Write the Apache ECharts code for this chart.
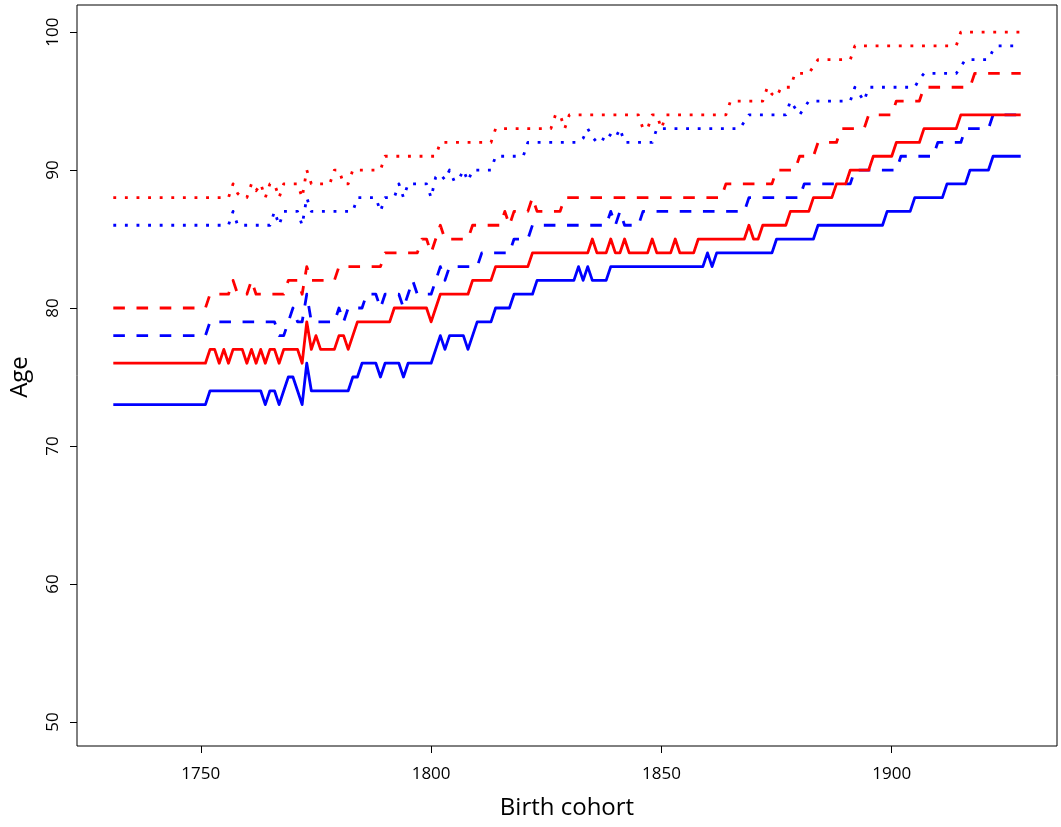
<!DOCTYPE html>
<html>
<head>
<meta charset="utf-8">
<script src="https://cdn.jsdelivr.net/npm/echarts@6/dist/echarts.min.js"></script>
<style>
  html, body { margin: 0; padding: 0; background: #fff; }
  #chart { width: 1061px; height: 827px; }
</style>
</head>
<body>
<div id="chart"></div>
<script>
// Birth cohorts 1731..1928, one value per cohort (rows of ten years)
const firstYear = 1731;

const xTicks = [1750, 1800, 1850, 1900];
const yTicks = [50, 60, 70, 80, 90, 100];

// Blue, solid
const blueSolid = [
  73, 73, 73, 73, 73, 73, 73, 73, 73, 73,
  73, 73, 73, 73, 73, 73, 73, 73, 73, 73,
  73, 74, 74, 74, 74, 74, 74, 74, 74, 74,
  74, 74, 74, 73, 74, 74, 73, 74, 75, 75,
  74, 73, 76, 74, 74, 74, 74, 74, 74, 74,
  74, 74, 75, 75, 76, 76, 76, 76, 75, 76,
  76, 76, 76, 75, 76, 76, 76, 76, 76, 76,
  77, 78, 77, 78, 78, 78, 78, 77, 78, 79,
  79, 79, 79, 80, 80, 80, 80, 81, 81, 81,
  81, 81, 82, 82, 82, 82, 82, 82, 82, 82,
  82, 83, 82, 83, 82, 82, 82, 82, 83, 83,
  83, 83, 83, 83, 83, 83, 83, 83, 83, 83,
  83, 83, 83, 83, 83, 83, 83, 83, 83, 84,
  83, 84, 84, 84, 84, 84, 84, 84, 84, 84,
  84, 84, 84, 84, 85, 85, 85, 85, 85, 85,
  85, 85, 85, 86, 86, 86, 86, 86, 86, 86,
  86, 86, 86, 86, 86, 86, 86, 86, 87, 87,
  87, 87, 87, 87, 88, 88, 88, 88, 88, 88,
  88, 89, 89, 89, 89, 89, 90, 90, 90, 90,
  90, 91, 91, 91, 91, 91, 91, 91
];

// Blue, dashed
const blueDashed = [
  78, 78, 78, 78, 78, 78, 78, 78, 78, 78,
  78, 78, 78, 78, 78, 78, 78, 78, 78, 78,
  78, 79, 79, 79, 79, 79, 79, 79, 79, 79,
  79, 79, 79, 79, 79, 79, 78, 78, 79, 80,
  79, 79, 81, 79, 79, 79, 79, 79, 79, 80,
  79, 80, 80, 80, 80, 81, 81, 81, 80, 81,
  81, 81, 81, 80, 81, 82, 81, 81, 81, 81,
  82, 83, 82, 83, 83, 83, 83, 83, 83, 83,
  84, 84, 84, 84, 84, 84, 84, 85, 85, 85,
  85, 86, 86, 86, 86, 86, 86, 86, 86, 86,
  86, 86, 86, 86, 86, 86, 86, 86, 87, 86,
  87, 86, 86, 86, 86, 87, 87, 87, 87, 87,
  87, 87, 87, 87, 87, 87, 87, 87, 87, 87,
  87, 87, 87, 87, 87, 87, 87, 87, 88, 88,
  88, 88, 88, 88, 88, 88, 88, 88, 88, 88,
  89, 89, 89, 89, 89, 89, 89, 89, 89, 89,
  89, 90, 90, 90, 90, 90, 90, 90, 90, 90,
  90, 91, 91, 91, 91, 91, 91, 91, 91, 92,
  92, 92, 92, 92, 92, 93, 93, 93, 93, 93,
  93, 94, 94, 94, 94, 94, 94, 94
];

// Blue, dotted
const blueDotted = [
  86, 86, 86, 86, 86, 86, 86, 86, 86, 86,
  86, 86, 86, 86, 86, 86, 86, 86, 86, 86,
  86, 86, 86, 86, 86, 86, 87, 86, 86, 86,
  86, 86, 86, 86, 86, 87, 86, 87, 87, 87,
  87, 86, 88, 87, 87, 87, 87, 87, 87, 87,
  87, 87, 87, 88, 88, 88, 88, 88, 87, 88,
  88, 88, 89, 88, 89, 89, 89, 89, 89, 88,
  89.5, 89.7, 89.3, 90, 89.2, 89.3, 90, 89.2, 90, 90,
  90, 90, 90, 91, 91, 91, 91, 91, 91, 91,
  92, 92, 92, 92, 92, 92, 92, 92, 92, 92,
  92, 92, 92.3, 93, 92.4, 92, 92, 92.7, 92.5, 92.3,
  93, 92, 92, 92, 92, 92, 92, 92, 93, 93,
  93, 93, 93, 93, 93, 93, 93, 93, 93, 93,
  93, 93, 93, 93, 93, 93, 93, 93.5, 94, 94,
  94, 94, 94, 94, 94, 94, 94, 95, 94.5, 94,
  94.5, 95, 95, 95, 95, 95, 95, 95, 95, 95,
  95, 96, 95.5, 95, 96, 96, 96, 96, 96, 96,
  96, 96, 96, 96, 96, 96.6, 97, 97, 97, 97,
  97, 97, 97, 97, 97.5, 98, 98, 98, 98, 98,
  98, 98.7, 99, 99, 99, 99, 99, 99
];

// Red, solid
const redSolid = [
  76, 76, 76, 76, 76, 76, 76, 76, 76, 76,
  76, 76, 76, 76, 76, 76, 76, 76, 76, 76,
  76, 77, 77, 76, 77, 76, 77, 77, 77, 76,
  77, 76, 77, 76, 77, 77, 76, 77, 77, 77,
  77, 76, 79, 77, 78, 77, 77, 77, 77, 78,
  78, 77, 78, 79, 79, 79, 79, 79, 79, 79,
  79, 80, 80, 80, 80, 80, 80, 80, 80, 79,
  80, 81, 81, 81, 81, 81, 81, 81, 82, 82,
  82, 82, 82, 83, 83, 83, 83, 83, 83, 83,
  83, 84, 84, 84, 84, 84, 84, 84, 84, 84,
  84, 84, 84, 84, 85, 84, 84, 84, 85, 84,
  84, 85, 84, 84, 84, 84, 84, 85, 84, 84,
  84, 84, 85, 84, 84, 84, 84, 85, 85, 85,
  85, 85, 85, 85, 85, 85, 85, 85, 86, 85,
  85, 86, 86, 86, 86, 86, 86, 87, 87, 87,
  87, 87, 88, 88, 88, 88, 88, 89, 89, 89,
  90, 90, 90, 90, 90, 91, 91, 91, 91, 91,
  92, 92, 92, 92, 92, 92, 93, 93, 93, 93,
  93, 93, 93, 93, 94, 94, 94, 94, 94, 94,
  94, 94, 94, 94, 94, 94, 94, 94
];

// Red, dashed
const redDashed = [
  80, 80, 80, 80, 80, 80, 80, 80, 80, 80,
  80, 80, 80, 80, 80, 80, 80, 80, 80, 80,
  80, 81, 81, 81, 81, 81, 82, 81, 81, 81,
  82, 81, 81, 81, 81, 81, 81, 81, 82, 82,
  82, 81, 83, 82, 82, 82, 82, 82, 82, 83,
  83, 83, 83, 83, 83, 83, 83, 83, 83, 84,
  84, 84, 84, 84, 84, 84, 84, 85, 85, 84,
  85, 86, 85, 85, 85, 85, 85, 85, 86, 86,
  86, 86, 86, 86, 86, 87, 86, 87, 87, 87,
  87, 88, 87, 87, 87, 87, 87, 87, 88, 88,
  88, 88, 88, 88, 88, 88, 88, 88, 88, 88,
  88, 88, 88, 88, 88, 88, 88, 88, 88, 88,
  88, 88, 88, 88, 88, 88, 88, 88, 88, 88,
  88, 88, 88, 89, 89, 89, 89, 89, 89, 89,
  89, 89, 89, 89, 90, 90, 90, 90, 90, 91,
  91, 91, 91, 92, 92, 92, 92, 92, 93, 93,
  93, 93, 93, 93, 94, 94, 94, 94, 94, 94,
  95, 95, 95, 95, 95, 95, 96, 96, 96, 96,
  96, 96, 96, 96, 96, 96, 96, 97, 97, 97,
  97, 97, 97, 97, 97, 97, 97, 97
];

// Red, dotted
const redDotted = [
  88, 88, 88, 88, 88, 88, 88, 88, 88, 88,
  88, 88, 88, 88, 88, 88, 88, 88, 88, 88,
  88, 88, 88, 88, 88, 88, 89, 88.3, 88, 88,
  89, 88.5, 89, 88, 89, 89, 88, 89, 89, 89,
  89, 88, 90, 89, 89, 89, 89, 89, 90, 90,
  89, 89, 90, 90, 90, 90, 90, 90, 90, 91,
  91, 91, 91, 91, 91, 91, 91, 91, 91, 91,
  91, 92, 92, 92, 92, 92, 92, 92, 92, 92,
  92, 92, 92, 93, 93, 93, 93, 93, 93, 93,
  93, 93, 93, 93, 93, 93, 94, 94, 93, 94,
  94, 94, 94, 94, 94, 94, 94, 94, 94, 94,
  94, 94, 94, 94, 94, 93, 93, 94, 94, 93,
  94, 94, 94, 94, 94, 94, 94, 94, 94, 94,
  94, 94, 94, 94, 95, 95, 95, 95, 95, 95,
  95, 95, 96, 95.5, 95.3, 96, 96, 96, 97, 97,
  97, 97, 97.5, 98, 98, 98, 98, 98, 98, 98,
  98, 99, 99, 99, 99, 99, 99, 99, 99, 99,
  99, 99, 99, 99, 99, 99, 99, 99, 99, 99,
  99, 99, 99, 99, 100, 100, 100, 100, 100, 100,
  100, 100, 100, 100, 100, 100, 100, 100
];

const BLUE = '#0000ff';
const RED = '#ff0000';
const LINE_W = 2.8;
const DASHED = [11.6, 11.6];
const DOTTED = [2.9, 8.7];

function cohortPairs(values) {
  return values.map((v, i) => [firstYear + i, v]);
}

function lineSeries(name, values, color, dash) {
  return {
    name: name,
    type: 'line',
    data: cohortPairs(values),
    showSymbol: false,
    symbol: 'none',
    silent: true,
    lineStyle: { color: color, width: LINE_W, type: dash, cap: 'butt', join: 'round' },
    z: 3
  };
}

const axisFont = { fontFamily: 'Open Sans', fontSize: 17, color: '#000' };
const plainNumber = v => String(v);

const chart = echarts.init(document.getElementById('chart'), null, { renderer: 'canvas' });

chart.setOption({
  animation: false,
  backgroundColor: '#ffffff',
  grid: {
    left: 77, right: 4, top: 5, bottom: 81,
    show: true, borderColor: '#000', borderWidth: 1, backgroundColor: 'transparent'
  },
  xAxis: {
    type: 'value',
    min: 1723.12,
    max: 1935.88,
    axisLine: { show: false },
    axisTick: { show: true, inside: false, length: 7, lineStyle: { color: '#000', width: 1 }, customValues: xTicks },
    axisLabel: Object.assign({ customValues: xTicks, margin: 20, formatter: plainNumber }, axisFont),
    splitLine: { show: false }
  },
  yAxis: {
    type: 'value',
    min: 48.26,
    max: 101.96,
    axisLine: { show: false },
    axisTick: { show: true, inside: false, length: 7, lineStyle: { color: '#000', width: 1 }, customValues: yTicks },
    axisLabel: Object.assign({ customValues: yTicks, margin: 15, rotate: 90, formatter: plainNumber }, axisFont),
    splitLine: { show: false }
  },
  graphic: [
    {
      type: 'text', x: 567, y: 808,
      style: { text: 'Birth cohort', fontFamily: 'Open Sans', fontSize: 24, fill: '#000',
               textAlign: 'center', textVerticalAlign: 'middle' }
    },
    {
      type: 'text', x: 20, y: 377, rotation: Math.PI / 2,
      style: { text: 'Age', fontFamily: 'Open Sans', fontSize: 24, fill: '#000',
               textAlign: 'center', textVerticalAlign: 'middle' }
    }
  ],
  series: [
    lineSeries('blue solid', blueSolid, BLUE, 'solid'),
    lineSeries('blue dashed', blueDashed, BLUE, DASHED),
    lineSeries('blue dotted', blueDotted, BLUE, DOTTED),
    lineSeries('red solid', redSolid, RED, 'solid'),
    lineSeries('red dashed', redDashed, RED, DASHED),
    lineSeries('red dotted', redDotted, RED, DOTTED)
  ]
});
</script>
</body>
</html>
